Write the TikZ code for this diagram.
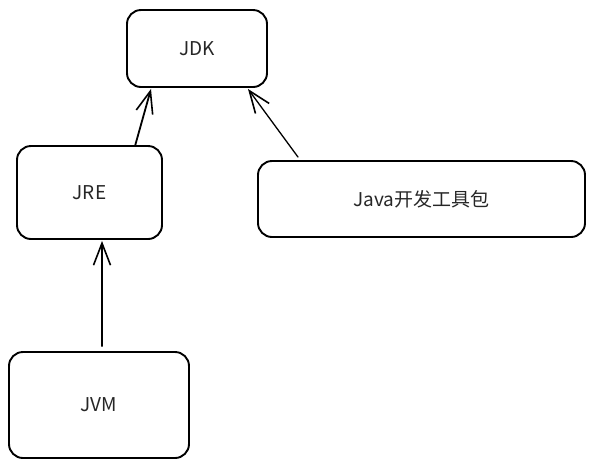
\documentclass[tikz,border=0pt]{standalone}
\usepackage{fontspec}
\setmainfont{Noto Sans CJK SC}
\usetikzlibrary{arrows.meta}
\begin{document}
\begin{tikzpicture}[x=1pt,y=-1pt,
  box/.style={draw=black, line width=1.9pt, rounded corners=14pt, inner sep=0pt,
    font=\fontsize{19}{22}\selectfont, text=black!85},
  conn/.style={line width=1.8pt, line cap=round, -{Straight Barb[length=22pt,width=17pt,line width=1.6pt]}}]
\useasboundingbox (0,0) rectangle (595,467);
\node[box, minimum width=140pt, minimum height=77pt] (jdk) at (197,48.5) {JDK};
\node[box, minimum width=145pt, minimum height=93pt] (jre) at (89.5,192.5) {JRE};
\node[box, minimum width=327pt, minimum height=76pt] (tool) at (421.5,199) {Java开发工具包};
\node[box, minimum width=180pt, minimum height=106pt] (jvm) at (99,405) {JVM};
\draw[conn] ([xshift=45.5pt,yshift=-1pt]jre.north) -- ([xshift=-46pt,yshift=-1pt]jdk.south);
\draw[conn, line width=1.3pt] ([xshift=-123.5pt,yshift=3pt]tool.north) -- ([xshift=51pt,yshift=-1pt]jdk.south);
\draw[conn] ([xshift=3pt,yshift=5pt]jvm.north) -- ([xshift=12.5pt,yshift=-1pt]jre.south);
\end{tikzpicture}
\end{document}
